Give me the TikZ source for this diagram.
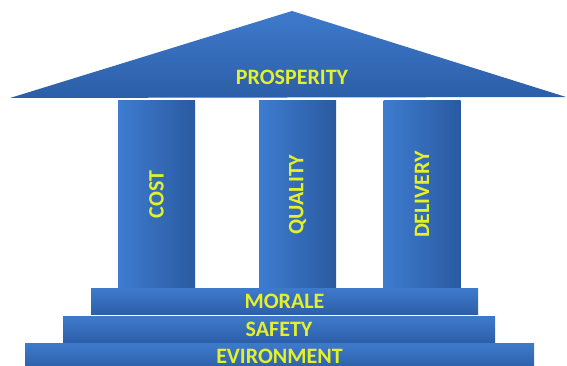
\documentclass[tikz,border=0pt]{standalone}
\usepackage{fontspec}
\setmainfont{Carlito}
\usepackage{xcolor}
\definecolor{roofblue}{RGB}{62,122,204}
\definecolor{deepblue}{RGB}{44,94,168}
\definecolor{pillarlight}{RGB}{62,124,208}
\definecolor{pillardark}{RGB}{42,90,160}
\definecolor{labelyellow}{RGB}{228,240,42}

\begin{document}
\begin{tikzpicture}[x=1pt,y=-1pt]
    \useasboundingbox (0,0) rectangle (567,366);
    % roof of the temple
    \coordinate (eaveL) at (10,98);
    \coordinate (apex) at (292,11);
    \coordinate (eaveR) at (566,97);
    \shade [top color=roofblue, bottom color=deepblue] (eaveL) -- (apex) -- (eaveR) -- cycle;

    \begin{scope}[every node/.style={inner sep=0pt, text=labelyellow,
                  font=\bfseries\fontsize{22}{22}\selectfont}]
        \node (prosperity) at (292,77) {PROSPERITY};

        % pillars, text runs bottom to top
        \begin{scope}[every node/.append style={rotate=90, minimum width=187pt,
                      minimum height=77pt, left color=pillarlight, right color=pillardark}]
            \node (cost) at (156.5,194.5) {COST};
            \node (quality) at (297.5,194.5) {QUALITY};
            \node (delivery) at (422,194.5) {DELIVERY};
        \end{scope}

        % steps
        \begin{scope}[every node/.append style={minimum height=26.5pt,
                      top color=roofblue, bottom color=deepblue}]
            \node [minimum width=387pt] (morale) at (284.5,301.5) {MORALE};
            \node [minimum width=432pt] (safety) at (279,329.5) {SAFETY};
            \node [minimum width=509pt] (environment) at (279.5,356.5) {EVIRONMENT};
        \end{scope}
    \end{scope}
\end{tikzpicture}
\end{document}
